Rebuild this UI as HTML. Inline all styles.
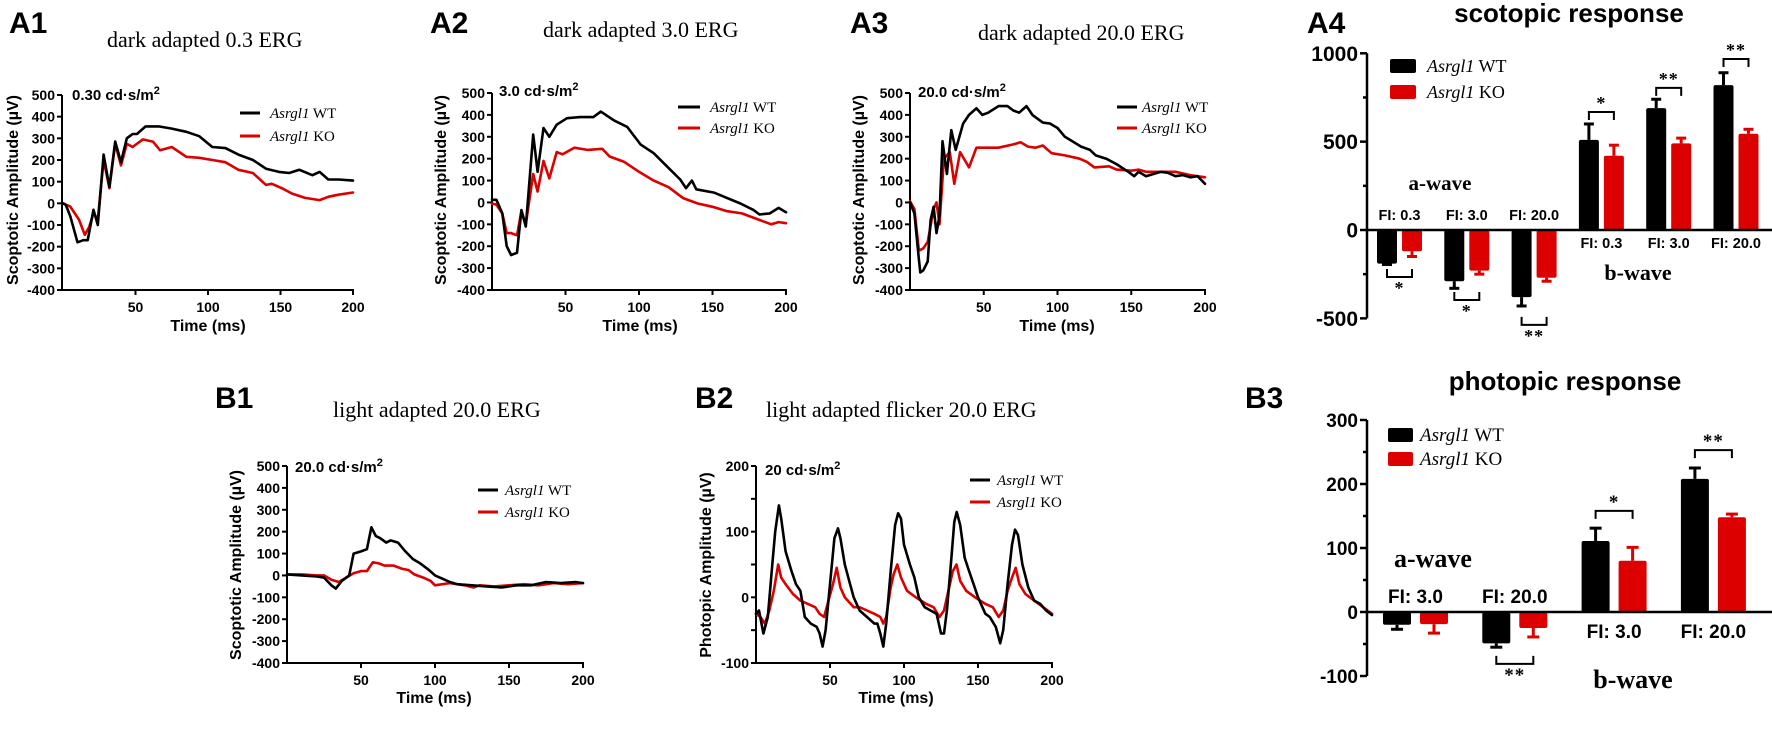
<!DOCTYPE html>
<html><head><meta charset="utf-8"><style>
html,body{margin:0;padding:0;background:#fff;}
svg{display:block;}
.sans{font-family:"Liberation Sans",Arial,sans-serif;}
.serif{font-family:"Liberation Serif","Times New Roman",serif;}
</style></head><body>
<svg id="fig" xmlns="http://www.w3.org/2000/svg" width="1772" height="741" viewBox="0 0 1772 741">
<rect x="0" y="0" width="1772" height="741" fill="#fff"/>
<!-- panel letters -->
<g class="sans" font-weight="bold" font-size="30" fill="#000">
<text x="9" y="33">A1</text>
<text x="430" y="33">A2</text>
<text x="850" y="33">A3</text>
<text x="1307" y="33">A4</text>
<text x="215" y="408">B1</text>
<text x="695" y="408">B2</text>
<text x="1245" y="408">B3</text>
</g>
<!-- titles -->
<g class="serif" font-size="22" fill="#000">
<text x="107" y="47">dark adapted 0.3 ERG</text>
<text x="543" y="37">dark adapted 3.0 ERG</text>
<text x="978" y="40">dark adapted 20.0 ERG</text>
<text x="333" y="417">light adapted 20.0 ERG</text>
<text x="766" y="417">light adapted flicker 20.0 ERG</text>
</g>
<g class="sans" font-weight="bold" font-size="26" fill="#000" text-anchor="middle">
<text x="1569" y="22">scotopic response</text>
<text x="1565" y="390">photopic response</text>
</g>
<!-- intensity labels -->
<g class="sans" font-weight="bold" font-size="15" fill="#000">
<text x="72" y="100">0.30 cd·s/m<tspan dy="-6" font-size="11">2</tspan></text>
<text x="499" y="96">3.0 cd·s/m<tspan dy="-6" font-size="11">2</tspan></text>
<text x="918" y="97">20.0 cd·s/m<tspan dy="-6" font-size="11">2</tspan></text>
<text x="295" y="472">20.0 cd·s/m<tspan dy="-6" font-size="11">2</tspan></text>
<text x="765" y="475">20 cd·s/m<tspan dy="-6" font-size="11">2</tspan></text>
</g>
<!-- y axis titles -->
<g class="sans" font-weight="bold" font-size="16" fill="#000" text-anchor="middle">
<text transform="translate(18,190) rotate(-90)">Scoptotic Amplitude (µV)</text>
<text transform="translate(446,190) rotate(-90)">Scoptotic Amplitude (µV)</text>
<text transform="translate(864,190) rotate(-90)">Scoptotic Amplitude (µV)</text>
<text transform="translate(241,565) rotate(-90)">Scoptotic Amplitude (µV)</text>
<text transform="translate(711,565) rotate(-90)">Photopic Amplitude (µV)</text>
</g>
<!-- x axis titles -->
<g class="sans" font-weight="bold" font-size="16" fill="#000" text-anchor="middle">
<text x="208" y="331">Time (ms)</text>
<text x="640" y="331">Time (ms)</text>
<text x="1057" y="331">Time (ms)</text>
<text x="434" y="703">Time (ms)</text>
<text x="896" y="703">Time (ms)</text>
</g>
<!-- ERG legends -->
<g class="serif" font-size="15" fill="#000">
<g>
<line x1="240" y1="113" x2="260" y2="113" stroke="#000" stroke-width="3"/>
<line x1="240" y1="136" x2="260" y2="136" stroke="#dd0000" stroke-width="3"/>
<text x="270" y="118"><tspan font-style="italic">Asrgl1</tspan> WT</text>
<text x="270" y="141"><tspan font-style="italic">Asrgl1</tspan> KO</text>
</g>
<g>
<line x1="678" y1="107" x2="700" y2="107" stroke="#000" stroke-width="3"/>
<line x1="678" y1="128" x2="700" y2="128" stroke="#dd0000" stroke-width="3"/>
<text x="710" y="112"><tspan font-style="italic">Asrgl1</tspan> WT</text>
<text x="710" y="133"><tspan font-style="italic">Asrgl1</tspan> KO</text>
</g>
<g>
<line x1="1117" y1="107" x2="1137" y2="107" stroke="#000" stroke-width="3"/>
<line x1="1117" y1="128" x2="1137" y2="128" stroke="#dd0000" stroke-width="3"/>
<text x="1142" y="112"><tspan font-style="italic">Asrgl1</tspan> WT</text>
<text x="1142" y="133"><tspan font-style="italic">Asrgl1</tspan> KO</text>
</g>
<g>
<line x1="478" y1="490" x2="498" y2="490" stroke="#000" stroke-width="3"/>
<line x1="478" y1="512" x2="498" y2="512" stroke="#dd0000" stroke-width="3"/>
<text x="505" y="495"><tspan font-style="italic">Asrgl1</tspan> WT</text>
<text x="505" y="517"><tspan font-style="italic">Asrgl1</tspan> KO</text>
</g>
<g>
<line x1="970" y1="480" x2="990" y2="480" stroke="#000" stroke-width="3"/>
<line x1="970" y1="502" x2="990" y2="502" stroke="#dd0000" stroke-width="3"/>
<text x="997" y="485"><tspan font-style="italic">Asrgl1</tspan> WT</text>
<text x="997" y="507"><tspan font-style="italic">Asrgl1</tspan> KO</text>
</g>
</g>
<!-- bar legends -->
<g class="serif" fill="#000">
<g font-size="18">
<rect x="1390" y="59" width="26" height="14" rx="2" fill="#000"/>
<rect x="1390" y="85" width="26" height="14" rx="2" fill="#dd0000"/>
<text x="1427" y="72"><tspan font-style="italic">Asrgl1</tspan> WT</text>
<text x="1427" y="98"><tspan font-style="italic">Asrgl1</tspan> KO</text>
</g>
<g font-size="19">
<rect x="1388" y="428" width="25" height="14" rx="2" fill="#000"/>
<rect x="1388" y="452" width="25" height="14" rx="2" fill="#dd0000"/>
<text x="1420" y="441"><tspan font-style="italic">Asrgl1</tspan> WT</text>
<text x="1420" y="465"><tspan font-style="italic">Asrgl1</tspan> KO</text>
</g>
</g>
<g class="serif" font-weight="bold" fill="#000" text-anchor="middle">
<text x="1440" y="190" font-size="21">a-wave</text>
<text x="1638" y="280" font-size="22">b-wave</text>
<text x="1433" y="567" font-size="26">a-wave</text>
<text x="1633" y="688" font-size="26">b-wave</text>
</g>
<g id="charts"></g>
</svg>
<script>
// ---------- ERG trace data ----------
const A1_WT_T = [0,2,5,10,14,17,21,24,28,32,36,40,44,48,51,57,66,75,85,94,103,112,121,131,140,149,156,163,172,177,183,190,200];
const A1_WT_V = [0,-8,-60,-180,-170,-170,-30,-100,225,75,285,190,300,320,320,355,355,345,330,310,260,255,225,200,160,145,140,155,130,145,110,110,105];
const A1_KO_T = [0,5,11,15,18,21,24,28,32,36,40,44,48,55,62,67,75,85,94,103,112,121,131,140,144,151,158,167,177,183,190,200];
const A1_KO_V = [0,-15,-75,-145,-110,-45,-75,200,70,275,175,275,260,295,285,245,260,215,210,200,190,155,140,85,90,70,45,25,15,30,40,50];

const A2_WT_T = [0,3,7,10,13,17,20,23,28,31,35,39,44,51,60,69,74,83,92,101,110,119,128,132,136,139,151,160,169,178,182,189,195,200];
const A2_WT_V = [12,12,-50,-200,-240,-230,-35,-110,310,140,340,300,355,385,390,390,415,375,345,265,225,165,105,65,100,60,45,20,-5,-35,-55,-50,-25,-45];
const A2_KO_T = [0,3,7,10,13,17,20,23,28,31,35,39,44,48,56,65,75,80,90,100,110,120,130,140,150,160,170,180,190,195,200];
const A2_KO_V = [-5,-10,-50,-140,-140,-150,-40,-100,130,50,190,110,230,220,250,240,245,210,185,140,100,70,20,-5,-20,-40,-50,-75,-100,-90,-95];

const A3_WT_T = [0,3,6,7,9,12,14,16,18,20,22,25,28,31,36,40,45,49,53,60,66,70,74,79,83,90,95,100,105,110,116,122,126,133,140,148,152,155,160,165,170,175,180,185,190,195,200];
const A3_WT_V = [0,-50,-260,-320,-310,-270,-80,-20,-140,-60,280,130,330,240,360,400,430,400,410,440,440,420,410,440,400,365,360,340,300,280,255,240,215,200,175,140,120,140,120,130,140,135,120,125,115,120,85];
const A3_KO_T = [0,3,6,9,12,16,18,20,23,27,30,34,40,45,55,60,70,75,80,85,90,96,105,115,120,125,135,140,150,155,160,170,180,190,200];
const A3_KO_V = [5,-30,-220,-210,-180,-30,0,-100,200,230,85,230,160,250,250,250,265,275,255,250,260,225,215,200,185,160,165,150,145,150,140,140,140,125,115];

const B1_WT_T = [0,10,20,25,30,33,37,42,45,50,54,57,60,63,67,70,75,80,85,90,95,100,105,110,115,125,135,145,155,165,175,185,195,200];
const B1_WT_V = [5,0,-5,-10,-45,-60,-25,0,100,110,120,220,180,170,150,160,150,110,75,55,30,0,-15,-30,-40,-45,-50,-55,-45,-45,-30,-35,-30,-35];
const B1_KO_T = [0,10,20,25,30,35,40,45,50,54,58,62,66,72,78,82,86,92,97,100,105,110,120,126,130,140,150,160,170,180,190,200];
const B1_KO_V = [5,5,0,0,-20,-30,-10,10,20,20,60,55,45,45,30,25,5,-10,-25,-45,-40,-35,-45,-55,-45,-50,-45,-40,-45,-35,-40,-35];

const B2_WT_T = [0,2,5,8,11,13,15.5,17,20,24,27,30,33,37,41,43,45,47,50,53,55.4,57,60,63,66,70,75,80,82,84,86,88,91,94,96,98,100,104,107,110,114,118,122,125,127,129,132,134,135.6,138,141,144,147,150,155,158,162,165,167,170,173,175,177,180,184,188,192,196,200];
const B2_WT_V = [-25,-20,-55,-30,50,100,140,120,70,40,20,10,-30,-40,-45,-55,-75,-50,20,90,105,90,50,25,0,-20,-30,-40,-40,-55,-75,-40,40,110,128,120,80,50,30,0,-15,-20,-25,-55,-55,-20,60,115,130,110,60,40,20,0,-25,-30,-45,-70,-50,20,80,103,95,50,15,-5,-10,-20,-27];
const B2_KO_T = [0,3,6,9,12,15,17,20,25,30,35,40,43,46,49,52,54.5,57,60,66,70,75,80,84,86,88,91,93,95.5,98,102,108,115,120,124,127,130,133,135.5,138,142,148,155,160,164,167,170,173,175.5,178,182,188,194,200];
const B2_KO_V = [-25,-30,-40,-20,10,50,30,20,5,-5,-10,-15,-25,-30,-5,20,45,15,0,-15,-15,-20,-25,-30,-40,-30,15,35,50,30,10,0,-10,-15,-30,-20,10,40,50,25,10,0,-10,-15,-30,-20,10,30,45,20,5,-5,-15,-25];

const ERG_X_TICKS = [50,100,150,200];
const SCOT_Y_TICKS = [500,400,300,200,100,0,-100,-200,-300,-400];
const PHOT_Y_TICKS = [200,150,100,50,0,-50,-100];
const PHOT_Y_LABELS = [200,100,0,-100];

// ---------- bar data ----------
const A4_CATS = ["FI: 0.3","FI: 3.0","FI: 20.0","FI: 0.3","FI: 3.0","FI: 20.0"];
const A4_WT = [-190,-290,-380,510,690,820];
const A4_WT_ERR = [-195,-330,-430,600,740,890];
const A4_KO = [-120,-230,-270,420,490,545];
const A4_KO_ERR = [-150,-250,-290,480,520,570];
const A4_SIG = ["*","*","**","*","**","**"];
const A4_SIG_LEVEL = [-266,-396,-537,668,804,968];
const A4_Y_TICKS = [1000,750,500,250,0,-250,-500];
const A4_Y_LABELS = [1000,500,0,-500];

const B3_CATS = ["FI: 3.0","FI: 20.0","FI: 3.0","FI: 20.0"];
const B3_WT = [-20,-49,111,208];
const B3_WT_ERR = [-27,-55,131,225];
const B3_KO = [-19,-25,80,148];
const B3_KO_ERR = [-33,-39,101,153];
const B3_SIG = ["","**","*","**"];
const B3_SIG_LEVEL = [0,-81,158,253];
const B3_Y_TICKS = [300,250,200,150,100,50,0,-50,-100];
const B3_Y_LABELS = [300,200,100,0,-100];

const NS = "http://www.w3.org/2000/svg";
const root = document.getElementById("charts");
const RED = "#dd0000";
function mk(tag, attrs, parent){
  const e = document.createElementNS(NS, tag);
  for (const k in attrs) e.setAttribute(k, attrs[k]);
  parent.appendChild(e);
  return e;
}

function drawErg(name, geo, yTicks, yLabels, wtT, wtV, koT, koV){
  const g = mk("g", {}, root);
  
  
  const sx = t => geo.x0 + t * geo.ppm;
  const sy = v => geo.yBot - (v - geo.yMin) / (geo.yMax - geo.yMin) * (geo.yBot - geo.yTop);
  const ax = mk("g", {stroke:"#000","stroke-width":2,fill:"none"}, g);
  
  
  mk("line", {x1:geo.axisX, y1:sy(geo.yMax), x2:geo.axisX, y2:sy(geo.yMin)+1}, ax);
  mk("line", {x1:geo.axisX-1, y1:sy(geo.yMin), x2:sx(200)+1, y2:sy(geo.yMin)}, ax);
  yTicks.forEach(v => mk("line", {x1:geo.axisX-5, y1:sy(v), x2:geo.axisX, y2:sy(v)}, ax));
  ERG_X_TICKS.forEach(t => mk("line", {x1:sx(t), y1:sy(geo.yMin), x2:sx(t), y2:sy(geo.yMin)+5}, ax));
  const lab = mk("g", {class:"sans","font-weight":"bold","font-size":14,fill:"#000"}, g);
  
  
  yLabels.forEach(v => { const t = mk("text", {x:geo.axisX-7, y:sy(v)+5, "text-anchor":"end"}, lab); t.textContent = v; });
  ERG_X_TICKS.forEach(v => { const t = mk("text", {x:sx(v), y:sy(geo.yMin)+22, "text-anchor":"middle"}, lab); t.textContent = v; });
  function trace(T, V, color, nm){
    const n = Math.min(T.length, V.length);
    const pts = [];
    for (let i = 0; i < n; i++) pts.push(sx(T[i]).toFixed(1) + "," + sy(V[i]).toFixed(1));
    const p = mk("polyline", {points:pts.join(" "), fill:"none", stroke:color, "stroke-width":2.6, "stroke-linejoin":"round", "stroke-linecap":"round"}, g);
    
    
  }
  trace(koT, koV, RED, name + '-ko-trace');
  trace(wtT, wtV, "#000", name + '-wt-trace');
}

drawErg("a1", {x0:63, ppm:1.45, axisX:62, yTop:95, yBot:290, yMin:-400, yMax:500}, SCOT_Y_TICKS, SCOT_Y_TICKS, A1_WT_T, A1_WT_V, A1_KO_T, A1_KO_V);
drawErg("a2", {x0:492, ppm:1.47, axisX:492, yTop:93, yBot:290, yMin:-400, yMax:500}, SCOT_Y_TICKS, SCOT_Y_TICKS, A2_WT_T, A2_WT_V, A2_KO_T, A2_KO_V);
drawErg("a3", {x0:910, ppm:1.475, axisX:910, yTop:93, yBot:290, yMin:-400, yMax:500}, SCOT_Y_TICKS, SCOT_Y_TICKS, A3_WT_T, A3_WT_V, A3_KO_T, A3_KO_V);
drawErg("b1", {x0:287, ppm:1.48, axisX:287, yTop:466, yBot:663, yMin:-400, yMax:500}, SCOT_Y_TICKS, SCOT_Y_TICKS, B1_WT_T, B1_WT_V, B1_KO_T, B1_KO_V);
drawErg("b2", {x0:756, ppm:1.48, axisX:756, yTop:466, yBot:663, yMin:-100, yMax:200}, PHOT_Y_TICKS, PHOT_Y_LABELS, B2_WT_T, B2_WT_V, B2_KO_T, B2_KO_V);

function drawBars(name, geo, cats, wt, wtErr, ko, koErr, sig, sigLevel, yTicks, yLabels){
  const g = mk("g", {}, root);
  
  
  const sy = v => geo.y0 - v * geo.ppu;
  const ax = mk("g", {stroke:"#000","stroke-width":2.5,fill:"none"}, g);
  
  
  mk("line", {x1:geo.axisX, y1:sy(yTicks[0]), x2:geo.axisX, y2:sy(yTicks[yTicks.length-1])}, ax);
  yTicks.forEach(v => mk("line", {x1:geo.axisX - (yLabels.includes(v) ? 7 : 4), y1:sy(v), x2:geo.axisX, y2:sy(v)}, ax));
  const lab = mk("g", {class:"sans","font-weight":"bold","font-size":geo.tickFont,fill:"#000"}, g);
  
  
  yLabels.forEach(v => { const t = mk("text", {x:geo.axisX-9, y:sy(v)+geo.tickFont*0.36, "text-anchor":"end"}, lab); t.textContent = v; });
  const bars = mk("g", {}, g);
  cats.forEach((c, i) => {
    const xw = geo.firstX + i * geo.step;
    const xk = xw + geo.koOff;
    const bw = mk("rect", {x:xw, y:Math.min(sy(0), sy(wt[i])), width:geo.bw, height:Math.abs(sy(wt[i]) - sy(0)), fill:"#000", rx:2}, bars);
    
    
    const bk = mk("rect", {x:xk, y:Math.min(sy(0), sy(ko[i])), width:geo.bw, height:Math.abs(sy(ko[i]) - sy(0)), fill:RED, rx:2}, bars);
    
    
    [[xw, wt[i], wtErr[i], "#000", "wt"], [xk, ko[i], koErr[i], RED, "ko"]].forEach(([x, v, e, col, k]) => {
      const cx = x + geo.bw / 2;
      const eg = mk("g", {stroke:col, "stroke-width":3}, bars);
      
      
      mk("line", {x1:cx, y1:sy(v), x2:cx, y2:sy(e)}, eg);
      mk("line", {x1:cx-geo.cap, y1:sy(e), x2:cx+geo.cap, y2:sy(e)}, eg);
    });
    const neg = wt[i] < 0;
    const lc = (xw + xk + geo.bw) / 2;
    const fl = mk("text", {x:lc, y:neg ? geo.aLabelY : geo.bLabelY, "text-anchor":"middle", class:"sans", "font-weight":"bold", "font-size":geo.fiFont, fill:"#000"}, g);
    fl.textContent = c;
    
    
    if (sig[i]) {
      const x1 = xw + geo.bw / 2, x2 = xk + geo.bw / 2, y = sy(sigLevel[i]);
      const d = neg ? 8 : -8;
      const br = mk("path", {d:`M${x1},${y-d} L${x1},${y} L${x2},${y} L${x2},${y-d}`, fill:"none", stroke:"#000", "stroke-width":2}, g);
      
      
      const st = mk("text", {x:(x1+x2)/2, y:neg ? y + 17 : y - 3, "text-anchor":"middle", class:"serif", "font-weight":"bold", "font-size":geo.starFont, fill:"#000", "letter-spacing":"1"}, g);
      st.textContent = sig[i];
      
      
    }
  });
  const z = mk("line", {x1:geo.axisX, y1:sy(0), x2:1772, y2:sy(0), stroke:"#000", "stroke-width":2.5}, g);
  
  
}

drawBars("a4", {axisX:1367, y0:230, ppu:0.1767, firstX:1377, step:67.3, koOff:25, bw:20, cap:5, tickFont:21, fiFont:14.5, aLabelY:220, bLabelY:248, starFont:18},
  A4_CATS, A4_WT, A4_WT_ERR, A4_KO, A4_KO_ERR, A4_SIG, A4_SIG_LEVEL, A4_Y_TICKS, A4_Y_LABELS);
drawBars("b3", {axisX:1367, y0:612, ppu:0.64, firstX:1383, step:99.3, koOff:37, bw:28, cap:6, tickFont:19, fiFont:19, aLabelY:603, bLabelY:638, starFont:19},
  B3_CATS, B3_WT, B3_WT_ERR, B3_KO, B3_KO_ERR, B3_SIG, B3_SIG_LEVEL, B3_Y_TICKS, B3_Y_LABELS);
</script>
</body></html>
